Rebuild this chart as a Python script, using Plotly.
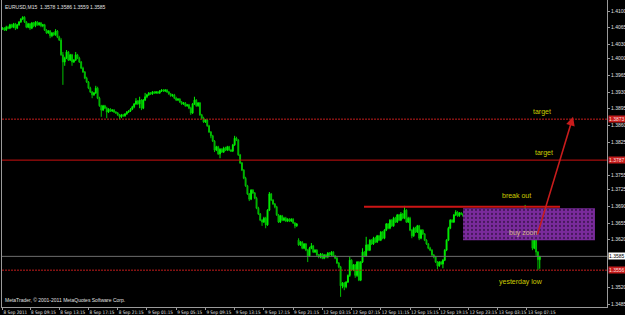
import plotly.graph_objects as go

# ---------------- data (EURUSD M15) ----------------
bar_open = [1.4062,1.4064,1.4060,1.4066,1.4064,1.4071,1.4066,1.4073,1.4064,1.4071,
 1.4077,1.4083,1.4087,1.4077,1.4066,1.4073,1.4064,1.4075,1.4069,1.4077,
 1.4071,1.4075,1.4069,1.4071,1.4060,1.4054,1.4058,1.4048,1.4054,1.4050,
 1.4058,1.4045,1.4039,1.4008,1.3993,1.4001,1.4014,1.3997,1.4008,1.3993,
 1.3997,1.4008,1.4001,1.3993,1.3980,1.3972,1.3959,1.3951,1.3938,1.3930,
 1.3924,1.3928,1.3938,1.3917,1.3901,1.3892,1.3901,1.3896,1.3888,1.3894,
 1.3890,1.3892,1.3888,1.3886,1.3882,1.3878,1.3882,1.3880,1.3884,1.3888,
 1.3890,1.3894,1.3899,1.3905,1.3911,1.3905,1.3913,1.3896,1.3913,1.3920,
 1.3924,1.3928,1.3926,1.3930,1.3928,1.3930,1.3928,1.3932,1.3934,1.3932,
 1.3934,1.3930,1.3926,1.3922,1.3924,1.3917,1.3913,1.3915,1.3909,1.3905,
 1.3907,1.3901,1.3903,1.3896,1.3886,1.3905,1.3913,1.3901,1.3907,1.3882,
 1.3875,1.3867,1.3871,1.3859,1.3846,1.3838,1.3827,1.3808,1.3815,1.3800,
 1.3810,1.3804,1.3812,1.3808,1.3815,1.3808,1.3806,1.3819,1.3833,1.3829,
 1.3798,1.3781,1.3766,1.3749,1.3733,1.3716,1.3705,1.3724,1.3718,1.3707,
 1.3686,1.3674,1.3661,1.3657,1.3665,1.3651,1.3682,1.3716,1.3703,1.3695,
 1.3689,1.3672,1.3657,1.3670,1.3661,1.3665,1.3659,1.3663,1.3659,1.3663,
 1.3655,1.3649,1.3619,1.3609,1.3615,1.3602,1.3611,1.3598,1.3586,1.3602,
 1.3607,1.3594,1.3598,1.3588,1.3584,1.3590,1.3581,1.3588,1.3584,1.3592,
 1.3588,1.3594,1.3586,1.3581,1.3571,1.3563,1.3523,1.3529,1.3521,1.3531,
 1.3545,1.3577,1.3556,1.3567,1.3545,1.3573,1.3535,1.3573,1.3594,1.3586,
 1.3609,1.3598,1.3619,1.3611,1.3623,1.3615,1.3628,1.3619,1.3636,1.3623,
 1.3640,1.3653,1.3644,1.3661,1.3649,1.3665,1.3657,1.3672,1.3661,1.3674,
 1.3665,1.3682,1.3657,1.3665,1.3640,1.3628,1.3644,1.3636,1.3649,1.3623,
 1.3640,1.3632,1.3619,1.3611,1.3602,1.3598,1.3588,1.3584,1.3573,1.3565,
 1.3573,1.3569,1.3577,1.3598,1.3619,1.3644,1.3661,1.3657,1.3672,1.3678,
 1.3670,1.3676,1.3674,1.3670,1.3665,1.3661,1.3665,1.3657,1.3653,1.3651,
 1.3647,1.3642,1.3638,1.3634,1.3630,1.3638,1.3634,1.3644,1.3653,1.3657,
 1.3663,1.3665,1.3670,1.3668,1.3674,1.3676,1.3680,1.3678,1.3682,1.3680,
 1.3678,1.3674,1.3676,1.3670,1.3657,1.3665,1.3661,1.3682,1.3665,1.3657,
 1.3630,1.3602,1.3619,1.3594,1.3578]

bar_close = [1.4064,1.4060,1.4066,1.4064,1.4071,1.4066,1.4073,1.4064,1.4071,1.4077,
 1.4083,1.4087,1.4077,1.4066,1.4073,1.4064,1.4075,1.4069,1.4077,1.4071,
 1.4075,1.4069,1.4071,1.4060,1.4054,1.4058,1.4048,1.4054,1.4050,1.4058,
 1.4045,1.4039,1.4008,1.3993,1.4001,1.4014,1.3997,1.4008,1.3993,1.3997,
 1.4008,1.4001,1.3993,1.3980,1.3972,1.3959,1.3951,1.3938,1.3930,1.3924,
 1.3928,1.3938,1.3917,1.3901,1.3892,1.3901,1.3896,1.3888,1.3894,1.3890,
 1.3892,1.3888,1.3886,1.3882,1.3878,1.3882,1.3880,1.3884,1.3888,1.3890,
 1.3894,1.3899,1.3905,1.3911,1.3905,1.3913,1.3896,1.3913,1.3920,1.3924,
 1.3928,1.3926,1.3930,1.3928,1.3930,1.3928,1.3932,1.3934,1.3932,1.3934,
 1.3930,1.3926,1.3922,1.3924,1.3917,1.3913,1.3915,1.3909,1.3905,1.3907,
 1.3901,1.3903,1.3896,1.3886,1.3905,1.3913,1.3901,1.3907,1.3882,1.3875,
 1.3867,1.3871,1.3859,1.3846,1.3838,1.3827,1.3808,1.3815,1.3800,1.3810,
 1.3804,1.3812,1.3808,1.3815,1.3808,1.3806,1.3819,1.3833,1.3829,1.3798,
 1.3781,1.3766,1.3749,1.3733,1.3716,1.3705,1.3724,1.3718,1.3707,1.3686,
 1.3674,1.3661,1.3657,1.3665,1.3651,1.3682,1.3716,1.3703,1.3695,1.3689,
 1.3672,1.3657,1.3670,1.3661,1.3665,1.3659,1.3663,1.3659,1.3663,1.3655,
 1.3649,1.3653,1.3609,1.3615,1.3602,1.3611,1.3598,1.3586,1.3602,1.3607,
 1.3594,1.3598,1.3588,1.3584,1.3590,1.3581,1.3588,1.3584,1.3592,1.3588,
 1.3594,1.3586,1.3581,1.3571,1.3563,1.3523,1.3529,1.3521,1.3531,1.3545,
 1.3577,1.3556,1.3567,1.3545,1.3573,1.3535,1.3573,1.3594,1.3586,1.3609,
 1.3598,1.3619,1.3611,1.3623,1.3615,1.3628,1.3619,1.3636,1.3623,1.3640,
 1.3653,1.3644,1.3661,1.3649,1.3665,1.3657,1.3672,1.3661,1.3674,1.3665,
 1.3682,1.3657,1.3665,1.3640,1.3628,1.3644,1.3636,1.3649,1.3623,1.3640,
 1.3632,1.3619,1.3611,1.3602,1.3598,1.3588,1.3584,1.3573,1.3565,1.3573,
 1.3569,1.3577,1.3598,1.3619,1.3644,1.3661,1.3657,1.3672,1.3678,1.3670,
 1.3676,1.3674,1.3670,1.3665,1.3661,1.3665,1.3657,1.3653,1.3651,1.3647,
 1.3642,1.3638,1.3634,1.3630,1.3638,1.3634,1.3644,1.3653,1.3657,1.3663,
 1.3665,1.3670,1.3668,1.3674,1.3676,1.3680,1.3678,1.3682,1.3680,1.3678,
 1.3674,1.3676,1.3670,1.3657,1.3665,1.3661,1.3682,1.3665,1.3657,1.3630,
 1.3602,1.3619,1.3594,1.3578,1.3585]

bar_high = [1.4066,1.4066,1.4069,1.4069,1.4073,1.4073,1.4075,1.4075,1.4073,1.4079,
 1.4085,1.4089,1.4089,1.4079,1.4075,1.4075,1.4077,1.4077,1.4079,1.4079,
 1.4077,1.4077,1.4073,1.4073,1.4062,1.4060,1.4060,1.4056,1.4056,1.4062,
 1.4060,1.4048,1.4043,1.4014,1.4004,1.4018,1.4016,1.4010,1.4010,1.3999,
 1.4014,1.4010,1.4004,1.3995,1.3983,1.3974,1.3962,1.3953,1.3941,1.3932,
 1.3930,1.3943,1.3941,1.3920,1.3903,1.3903,1.3903,1.3899,1.3896,1.3896,
 1.3894,1.3894,1.3890,1.3888,1.3884,1.3884,1.3884,1.3886,1.3890,1.3892,
 1.3896,1.3901,1.3907,1.3917,1.3913,1.3920,1.3915,1.3915,1.3928,1.3926,
 1.3930,1.3930,1.3932,1.3932,1.3932,1.3932,1.3934,1.3936,1.3936,1.3936,
 1.3936,1.3932,1.3928,1.3926,1.3926,1.3920,1.3917,1.3917,1.3911,1.3909,
 1.3909,1.3905,1.3905,1.3899,1.3907,1.3920,1.3915,1.3909,1.3909,1.3884,
 1.3878,1.3873,1.3873,1.3861,1.3848,1.3840,1.3829,1.3817,1.3817,1.3812,
 1.3812,1.3815,1.3815,1.3817,1.3817,1.3810,1.3821,1.3838,1.3836,1.3831,
 1.3800,1.3783,1.3768,1.3752,1.3735,1.3718,1.3726,1.3726,1.3720,1.3710,
 1.3689,1.3676,1.3663,1.3668,1.3668,1.3684,1.3720,1.3718,1.3705,1.3697,
 1.3691,1.3674,1.3672,1.3672,1.3668,1.3668,1.3665,1.3665,1.3665,1.3665,
 1.3657,1.3655,1.3623,1.3617,1.3617,1.3613,1.3613,1.3600,1.3605,1.3613,
 1.3609,1.3600,1.3600,1.3590,1.3592,1.3592,1.3590,1.3590,1.3594,1.3594,
 1.3596,1.3596,1.3588,1.3584,1.3573,1.3565,1.3531,1.3531,1.3533,1.3547,
 1.3584,1.3579,1.3569,1.3569,1.3575,1.3575,1.3575,1.3602,1.3596,1.3626,
 1.3611,1.3621,1.3621,1.3626,1.3626,1.3630,1.3630,1.3638,1.3638,1.3642,
 1.3655,1.3655,1.3663,1.3663,1.3668,1.3668,1.3674,1.3674,1.3678,1.3676,
 1.3691,1.3684,1.3668,1.3668,1.3642,1.3647,1.3647,1.3651,1.3651,1.3642,
 1.3642,1.3634,1.3621,1.3613,1.3605,1.3600,1.3590,1.3586,1.3575,1.3575,
 1.3575,1.3579,1.3600,1.3621,1.3647,1.3663,1.3663,1.3674,1.3682,1.3680,
 1.3678,1.3678,1.3676,1.3672,1.3668,1.3668,1.3668,1.3659,1.3655,1.3653,
 1.3649,1.3644,1.3640,1.3636,1.3640,1.3640,1.3647,1.3655,1.3659,1.3665,
 1.3668,1.3672,1.3672,1.3676,1.3678,1.3682,1.3682,1.3684,1.3684,1.3682,
 1.3680,1.3678,1.3678,1.3672,1.3668,1.3668,1.3693,1.3684,1.3668,1.3659,
 1.3632,1.3621,1.3621,1.3596,1.3586]

bar_low = [1.4060,1.4058,1.4058,1.4062,1.4062,1.4064,1.4064,1.4060,1.4062,1.4069,
 1.4075,1.4081,1.4075,1.4064,1.4064,1.4060,1.4062,1.4066,1.4066,1.4069,
 1.4069,1.4066,1.4066,1.4058,1.4052,1.4052,1.4043,1.4045,1.4048,1.4048,
 1.4043,1.4037,1.4006,1.3945,1.3985,1.3999,1.3995,1.3995,1.3985,1.3991,
 1.3995,1.3999,1.3991,1.3978,1.3970,1.3957,1.3949,1.3936,1.3928,1.3917,
 1.3922,1.3926,1.3915,1.3899,1.3878,1.3890,1.3894,1.3875,1.3886,1.3888,
 1.3888,1.3886,1.3884,1.3880,1.3873,1.3875,1.3878,1.3878,1.3882,1.3886,
 1.3888,1.3892,1.3896,1.3903,1.3903,1.3896,1.3892,1.3894,1.3911,1.3917,
 1.3922,1.3924,1.3924,1.3926,1.3926,1.3926,1.3926,1.3930,1.3930,1.3930,
 1.3928,1.3924,1.3920,1.3920,1.3915,1.3911,1.3911,1.3907,1.3903,1.3903,
 1.3899,1.3899,1.3894,1.3882,1.3884,1.3903,1.3899,1.3899,1.3880,1.3873,
 1.3865,1.3865,1.3857,1.3844,1.3833,1.3825,1.3804,1.3806,1.3798,1.3791,
 1.3802,1.3802,1.3806,1.3806,1.3806,1.3804,1.3804,1.3817,1.3827,1.3796,
 1.3779,1.3764,1.3747,1.3731,1.3714,1.3701,1.3703,1.3716,1.3705,1.3684,
 1.3672,1.3659,1.3649,1.3655,1.3644,1.3649,1.3680,1.3701,1.3693,1.3686,
 1.3670,1.3655,1.3655,1.3659,1.3659,1.3657,1.3657,1.3657,1.3657,1.3653,
 1.3644,1.3647,1.3607,1.3607,1.3600,1.3600,1.3596,1.3573,1.3584,1.3600,
 1.3592,1.3592,1.3586,1.3581,1.3581,1.3579,1.3579,1.3581,1.3581,1.3586,
 1.3586,1.3584,1.3579,1.3569,1.3560,1.3500,1.3518,1.3514,1.3518,1.3529,
 1.3542,1.3554,1.3554,1.3540,1.3542,1.3533,1.3533,1.3571,1.3584,1.3584,
 1.3596,1.3596,1.3609,1.3609,1.3613,1.3613,1.3617,1.3617,1.3621,1.3621,
 1.3638,1.3642,1.3642,1.3647,1.3647,1.3655,1.3655,1.3659,1.3659,1.3663,
 1.3663,1.3655,1.3655,1.3638,1.3623,1.3626,1.3634,1.3634,1.3619,1.3621,
 1.3630,1.3617,1.3609,1.3600,1.3596,1.3586,1.3581,1.3571,1.3558,1.3563,
 1.3567,1.3560,1.3575,1.3596,1.3617,1.3642,1.3655,1.3655,1.3670,1.3668,
 1.3668,1.3672,1.3668,1.3663,1.3659,1.3659,1.3655,1.3651,1.3649,1.3644,
 1.3640,1.3636,1.3632,1.3628,1.3628,1.3632,1.3632,1.3642,1.3651,1.3655,
 1.3661,1.3663,1.3665,1.3665,1.3672,1.3674,1.3676,1.3676,1.3678,1.3676,
 1.3672,1.3672,1.3668,1.3649,1.3655,1.3659,1.3659,1.3663,1.3655,1.3628,
 1.3598,1.3600,1.3586,1.3556,1.3559]

# time-axis labels (every 16 bars) and price-axis labels
time_tick_bars = [1, 16, 32, 48, 64, 80, 96, 112, 128, 144, 160,
                  176, 192, 208, 224, 240, 256, 272, 288]
time_tick_text = ["8 Sep 2011", "8 Sep 09:15", "8 Sep 13:15", "8 Sep 17:15", "8 Sep 21:15",
                  "9 Sep 01:15", "9 Sep 05:15", "9 Sep 09:15", "9 Sep 13:15", "9 Sep 17:15",
                  "9 Sep 21:15", "12 Sep 03:15", "12 Sep 07:15", "12 Sep 11:15", "12 Sep 15:15",
                  "12 Sep 19:15", "12 Sep 23:15", "13 Sep 03:15", "13 Sep 07:15"]
price_ticks = [1.4100, 1.4065, 1.4030, 1.4000, 1.3965, 1.3930, 1.3895, 1.3860, 1.3825,
               1.3755, 1.3725, 1.3690, 1.3655, 1.3620, 1.3520, 1.3485]

# drawn levels / objects (prices and bar positions)
target_high = 1.3873
target_low = 1.3787
yesterday_low = 1.3556
current_bid = 1.3585
breakout_level = 1.3689
breakout_from, breakout_to = 198.8, 306.1
zone_top, zone_bottom = 1.3686, 1.3619
zone_from, zone_to = 253.0, 325.2
arrow_start = (293.5, 1.3628)
arrow_end = (313.2, 1.3878)

bars = list(range(1, len(bar_close) + 1))

FONT = "Liberation Sans, Arial, sans-serif"
AXFONT = "Liberation Sans Narrow, DejaVu Sans Condensed, Liberation Sans, sans-serif"
TEXT_YEL = "#cccc00"
DOTS = "2px,1px"

fig = go.Figure()

# buy zone (purple dotted rectangle)
fig.add_trace(go.Scatter(
    x=[zone_from, zone_to, zone_to, zone_from, zone_from],
    y=[zone_top, zone_top, zone_bottom, zone_bottom, zone_top],
    mode="lines", fill="toself", line=dict(width=0),
    fillcolor="#7a2a9c",
    fillpattern=dict(shape=".", bgcolor="#7a2a9c", fgcolor="#14061c", size=4, solidity=0.25),
    hoverinfo="skip", showlegend=False))

# horizontal levels
fig.add_hline(y=target_high, line=dict(color="#c41c1c", width=1, dash=DOTS))
fig.add_hline(y=target_low, line=dict(color="#cc1010", width=1))
fig.add_hline(y=current_bid, line=dict(color="#6e6e6e", width=1))
fig.add_hline(y=yesterday_low, line=dict(color="#c41c1c", width=1, dash=DOTS))
fig.add_trace(go.Scatter(x=[breakout_from, breakout_to], y=[breakout_level, breakout_level],
                         mode="lines", line=dict(color="#cc1515", width=2),
                         hoverinfo="skip", showlegend=False))

# candles
fig.add_trace(go.Candlestick(
    x=bars, open=bar_open, high=bar_high, low=bar_low, close=bar_close,
    increasing=dict(line=dict(color="#00ee00", width=1), fillcolor="#00ff00"),
    decreasing=dict(line=dict(color="#00c000", width=1), fillcolor="#008a00"),
    whiskerwidth=0, showlegend=False, hoverinfo="skip"))

ann = []
# text labels on chart
def label(x, y, text, color=TEXT_YEL, size=7):
    ann.append(dict(x=x, y=y, xref="x", yref="y", text=text, showarrow=False,
                    font=dict(family=FONT, size=size, color=color)))

label(296, 1.3888, "target")
label(297.5, 1.3802, "target")
label(282.5, 1.3713, "break out")
label(286, 1.3634, "buy zoon", color="#d8b890")
label(284.5, 1.3531, "yesterday low")

# arrow
ann.append(dict(x=arrow_end[0], y=arrow_end[1], ax=arrow_start[0], ay=arrow_start[1],
                xref="x", yref="y", axref="x", ayref="y", text="", showarrow=True,
                arrowhead=2, arrowsize=1.1, arrowwidth=1.6, arrowcolor="#c81c1c"))

# right-side price boxes
def price_box(y, text, bg, fg):
    ann.append(dict(x=1, y=y, xref="paper", yref="y", xanchor="left", yanchor="middle",
                    xshift=1, text=text, showarrow=False, bgcolor=bg, borderpad=0,
                    font=dict(family=FONT, size=5, color=fg)))

price_box(target_high, "1.3873", "#c41c1c", "#ffdddd")
price_box(target_low, "1.3787", "#c41c1c", "#ffdddd")
price_box(current_bid, "1.3585", "#ffffff", "#000000")
price_box(yesterday_low, "1.3556", "#c41c1c", "#ffdddd")

# header and footer text
ann.append(dict(x=0.002, y=0.995, xref="paper", yref="paper", xanchor="left", yanchor="top",
                text="EURUSD,M15  1.3578 1.3586 1.3559 1.3585", showarrow=False,
                font=dict(family=FONT, size=5, color="#e0e0e0")))
ann.append(dict(x=0.002, y=0.005, xref="paper", yref="paper", xanchor="left", yanchor="bottom",
                text="MetaTrader, © 2001-2011 MetaQuotes Software Corp.", showarrow=False,
                font=dict(family=FONT, size=5, color="#e0e0e0")))

fig.update_layout(
    width=625, height=315,
    margin=dict(l=2, r=18, t=0, b=8, autoexpand=False),
    paper_bgcolor="#000000", plot_bgcolor="#000000",
    showlegend=False, annotations=ann,
    xaxis=dict(range=[0.67, 331.8], rangeslider=dict(visible=False), showgrid=False,
               zeroline=False, tickmode="array", tickvals=time_tick_bars, ticktext=time_tick_text,
               ticks="outside", ticklen=2, tickcolor="#9a9a9a", ticklabelposition="outside right",
               tickangle=0, automargin=False,
               tickfont=dict(family=AXFONT, size=4.6, color="#e0e0e0"),
               showline=True, linecolor="#9a9a9a", linewidth=1),
    yaxis=dict(range=[1.34787, 1.41231], side="right", showgrid=False, zeroline=False,
               tickmode="array", tickvals=price_ticks, ticktext=[f"{v:.4f}" for v in price_ticks],
               ticks="outside", ticklen=2, tickcolor="#9a9a9a", automargin=False,
               tickfont=dict(family=FONT, size=5, color="#e0e0e0"),
               showline=True, linecolor="#9a9a9a", linewidth=1, mirror=True),
)

fig.write_html("out.html")
